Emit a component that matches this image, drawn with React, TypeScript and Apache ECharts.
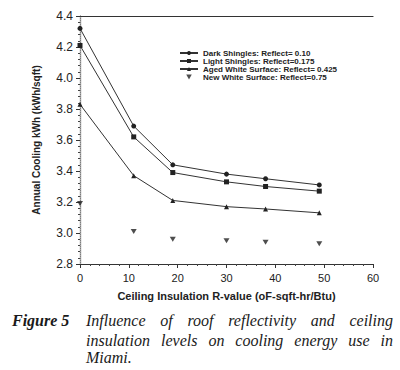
import React, { useEffect, useRef } from "react";
import * as echarts from "echarts";

const rValues = [0, 11, 19, 30, 38, 49];
const darkShingles = [4.32, 3.69, 3.44, 3.38, 3.35, 3.31];
const lightShingles = [4.21, 3.62, 3.39, 3.33, 3.3, 3.27];
const agedWhite = [3.83, 3.37, 3.21, 3.17, 3.155, 3.13];
const newWhite = [3.19, 3.01, 2.96, 2.95, 2.94, 2.93];

const seriesNames = [
  "Dark Shingles: Reflect= 0.10",
  "Light Shingles: Reflect=0.175",
  "Aged White Surface: Reflect= 0.425",
  "New White Surface: Reflect=0.75",
];

const captionLabel = "Figure 5";
const captionLines = [
  "Influence of roof reflectivity and ceiling",
  "insulation levels on cooling energy use in",
  "Miami.",
];

const INK = "#222";
const CAP_FONT = "italic 16px 'Liberation Serif'";
const DOWN_TRIANGLE = "path://M0,0L10,0L5,9Z";

function justify(line: string, x0: number, x1: number, y: number, last: boolean) {
  const ctx = document.createElement("canvas").getContext("2d")!;
  ctx.font = CAP_FONT;
  const words = line.split(" ");
  const widths = words.map((w) => ctx.measureText(w).width);
  const total = widths.reduce((a, b) => a + b, 0);
  const gap = last || words.length < 2 ? ctx.measureText(" ").width : (x1 - x0 - total) / (words.length - 1);
  let x = x0;
  return words.map((w, i) => {
    const el = {
      type: "text",
      x,
      y,
      style: { text: w, font: CAP_FONT, fill: "#1a1a1a", textVerticalAlign: "middle" },
    };
    x += widths[i] + gap;
    return el;
  });
}

export default function App() {
  const ref = useRef<HTMLDivElement>(null);
  useEffect(() => {
    const chart = echarts.init(ref.current!, undefined, { renderer: "svg" });
    const pair = (ys: number[]) => rValues.map((x, i) => [x, ys[i]]);
    const lineSeries = (name: string, ys: number[], symbol: string, size: number) => ({
      name,
      type: "line",
      data: pair(ys),
      symbol,
      symbolSize: size,
      lineStyle: { color: "#333", width: 1 },
      itemStyle: { color: "#222" },
    });
    const lineYs = [320, 340, 357];
    chart.setOption({
      animation: false,
      backgroundColor: "#fff",
      textStyle: { fontFamily: "'Liberation Sans', Arial, sans-serif" },
      grid: { left: 80, right: 27, top: 16, bottom: 106 },
      legend: {
        orient: "vertical",
        left: 174,
        top: 44,
        itemWidth: 18,
        itemHeight: 5,
        itemGap: 0,
        textStyle: { fontSize: 8, lineHeight: 8, fontWeight: "bold", color: INK },
        data: [
          seriesNames[0],
          seriesNames[1],
          seriesNames[2],
          { name: seriesNames[3], icon: DOWN_TRIANGLE },
        ],
      },
      xAxis: [
        {
          type: "value",
          min: 0,
          max: 60,
          interval: 10,
          name: "Ceiling Insulation R-value (oF-sqft-hr/Btu)",
          nameLocation: "middle",
          nameGap: 26,
          nameTextStyle: { fontSize: 11, fontWeight: "bold", color: INK },
          axisLine: { lineStyle: { color: "#333", width: 1.2 } },
          axisTick: { show: true, length: 4, lineStyle: { color: "#333" } },
          minorTick: { show: true, splitNumber: 5, length: 2, lineStyle: { color: "#444" } },
          axisLabel: { fontSize: 11, color: INK, margin: 8 },
          splitLine: { show: false },
        },
        {
          type: "value",
          position: "top",
          min: 0,
          max: 60,
          axisLine: { show: true, lineStyle: { color: "#333", width: 1.2 } },
          axisTick: { show: false },
          axisLabel: { show: false },
          splitLine: { show: false },
        },
      ],
      yAxis: [
        {
          type: "value",
          min: 2.8,
          max: 4.4,
          interval: 0.2,
          name: "Annual Cooling kWh (kWh/sqft)",
          nameLocation: "middle",
          nameGap: 39,
          nameTextStyle: { fontSize: 10, fontWeight: "bold", color: INK },
          axisLine: { show: true, lineStyle: { color: "#333", width: 1.2 } },
          axisTick: { show: true, length: 4, lineStyle: { color: "#333" } },
          minorTick: { show: true, splitNumber: 5, length: 2, lineStyle: { color: "#444" } },
          axisLabel: {
            fontSize: 12,
            color: INK,
            margin: 7,
            formatter: (v: number) => v.toFixed(1),
          },
          splitLine: { show: false },
        },
        {
          type: "value",
          position: "right",
          min: 2.8,
          max: 4.4,
          axisLine: { show: true, lineStyle: { color: "#aaa", width: 1, type: "dotted" } },
          axisTick: { show: false },
          axisLabel: { show: false },
          splitLine: { show: false },
        },
      ],
      series: [
        lineSeries(seriesNames[0], darkShingles, "circle", 5),
        lineSeries(seriesNames[1], lightShingles, "rect", 5),
        lineSeries(seriesNames[2], agedWhite, "triangle", 5),
        {
          name: seriesNames[3],
          type: "scatter",
          data: pair(newWhite),
          symbol: DOWN_TRIANGLE,
          symbolSize: [6, 5],
          itemStyle: { color: "#222" },
        },
      ],
      graphic: [
        {
          type: "text",
          x: 12,
          y: 320,
          style: {
            text: captionLabel,
            font: "italic bold 16px 'Liberation Serif'",
            fill: "#1a1a1a",
            textVerticalAlign: "middle",
          },
        },
        ...captionLines.flatMap((line, i) =>
          justify(line, 86, 393, lineYs[i], i === captionLines.length - 1)
        ),
      ],
    });
    return () => chart.dispose();
  }, []);
  return (
    <div
      ref={ref}
      style={{ position: "fixed", left: 0, top: 0, width: 400, height: 370 }}
    />
  );
}
